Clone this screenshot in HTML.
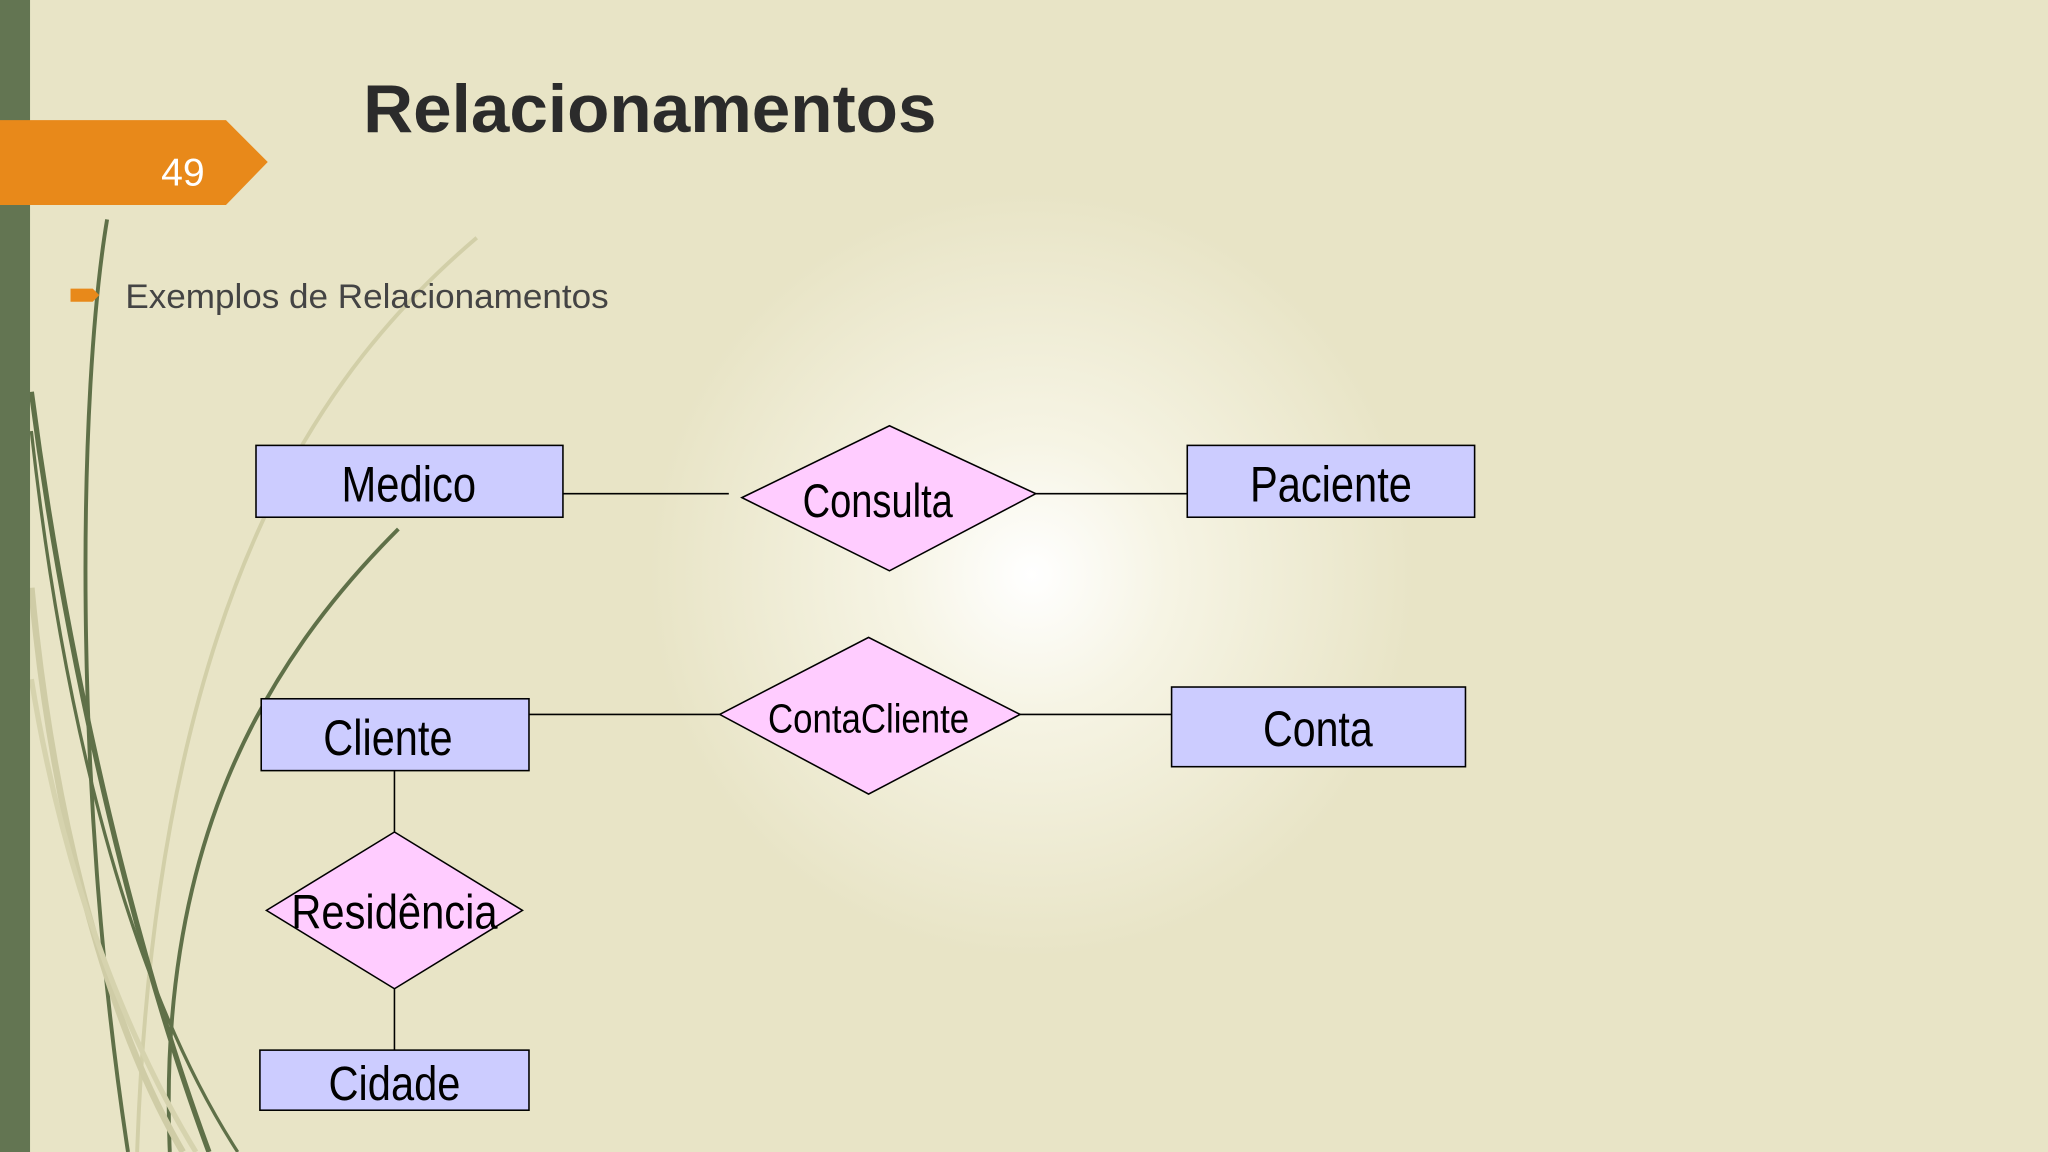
<!DOCTYPE html>
<html><head><meta charset="utf-8"><style>
html,body{margin:0;padding:0;width:2048px;height:1152px;overflow:hidden;background:#E8E4C6}
svg{display:block}
.n{font-family:"Liberation Sans",sans-serif;fill:#000;text-anchor:middle}
</style></head><body>
<svg width="2048" height="1152" viewBox="0 0 1568 882" xmlns="http://www.w3.org/2000/svg">
<defs>
<radialGradient id="g" cx="790" cy="440" r="420" gradientUnits="userSpaceOnUse">
<stop offset="0" stop-color="#ffffff"/><stop offset="0.25" stop-color="#f6f4e4"/><stop offset="0.7" stop-color="#E8E4C6"/><stop offset="1" stop-color="#E8E4C6"/>
</radialGradient>
</defs>
<rect width="1568" height="882" fill="url(#g)"/>
<g fill="none">
<path d="M365 182 C250 280 120 450 105 882" stroke="#d2cfa8" stroke-width="3"/>
<path d="M305 405 C200 510 120 650 130 882" stroke="#5f7048" stroke-width="3"/>
<path d="M82 168 C60 300 55 600 98 882" stroke="#5f7048" stroke-width="3"/>
<path d="M24 300 C50 500 100 720 160 882" stroke="#5f7048" stroke-width="4"/>
<path d="M24 330 C45 520 90 740 182 882" stroke="#5f7048" stroke-width="2.5"/>
<path d="M24 450 C40 620 80 780 140 882" stroke="#cfcca6" stroke-width="5"/>
<path d="M24 520 C50 680 100 800 150 882" stroke="#d6d3ae" stroke-width="4"/>
</g>
<rect x="0" y="0" width="23" height="882" fill="#637552"/>
<polygon points="0,92 173,92 205,124 173,157 0,157" fill="#E8891A"/>
<text x="140" y="142" font-family="Liberation Sans,sans-serif" font-size="30" fill="#fff" text-anchor="middle">49</text>
<text x="278" y="101" font-family="Liberation Sans,sans-serif" font-size="52" font-weight="bold" fill="#2b2b2b" textLength="439" lengthAdjust="spacingAndGlyphs">Relacionamentos</text>
<polygon points="54,221 71,221 76,226 71,231 54,231" fill="#E8891A"/>
<text x="96" y="236" font-family="Liberation Sans,sans-serif" font-size="26" fill="#444" textLength="370" lengthAdjust="spacingAndGlyphs">Exemplos de Relacionamentos</text>
<g stroke="#000" stroke-width="1.2">
<line x1="431" y1="378" x2="558" y2="378"/>
<line x1="788" y1="378" x2="909" y2="378"/>
<line x1="405" y1="547" x2="551" y2="547"/>
<line x1="781" y1="547" x2="897" y2="547"/>
<line x1="302" y1="590" x2="302" y2="637"/>
<line x1="302" y1="757" x2="302" y2="804"/>
<rect x="196" y="341" width="235" height="55" fill="#CCCCFF"/>
<rect x="909" y="341" width="220" height="55" fill="#CCCCFF"/>
<rect x="200" y="535" width="205" height="55" fill="#CCCCFF"/>
<rect x="897" y="526" width="225" height="61" fill="#CCCCFF"/>
<rect x="199" y="804" width="206" height="46" fill="#CCCCFF"/>
<polygon points="568,381 681,326 793,378 681,437" fill="#FFCCFF"/>
<polygon points="551,547 665,488 781,547 665,608" fill="#FFCCFF"/>
<polygon points="204,697 302,637 400,697 302,757" fill="#FFCCFF"/>
</g>
<g class="n" font-size="38">
<text x="313" y="384" textLength="103" lengthAdjust="spacingAndGlyphs">Medico</text>
<text x="1019" y="384" textLength="124" lengthAdjust="spacingAndGlyphs">Paciente</text>
<text x="672" y="396" font-size="36" textLength="115" lengthAdjust="spacingAndGlyphs">Consulta</text>
<text x="297" y="578" textLength="99" lengthAdjust="spacingAndGlyphs">Cliente</text>
<text x="1009" y="571" textLength="84" lengthAdjust="spacingAndGlyphs">Conta</text>
<text x="665" y="561" font-size="31" textLength="154" lengthAdjust="spacingAndGlyphs">ContaCliente</text>
<text x="302" y="711" font-size="37" textLength="158" lengthAdjust="spacingAndGlyphs">Residência</text>
<text x="302" y="842" font-size="37" textLength="101" lengthAdjust="spacingAndGlyphs">Cidade</text>
</g>
</svg>
</body></html>
